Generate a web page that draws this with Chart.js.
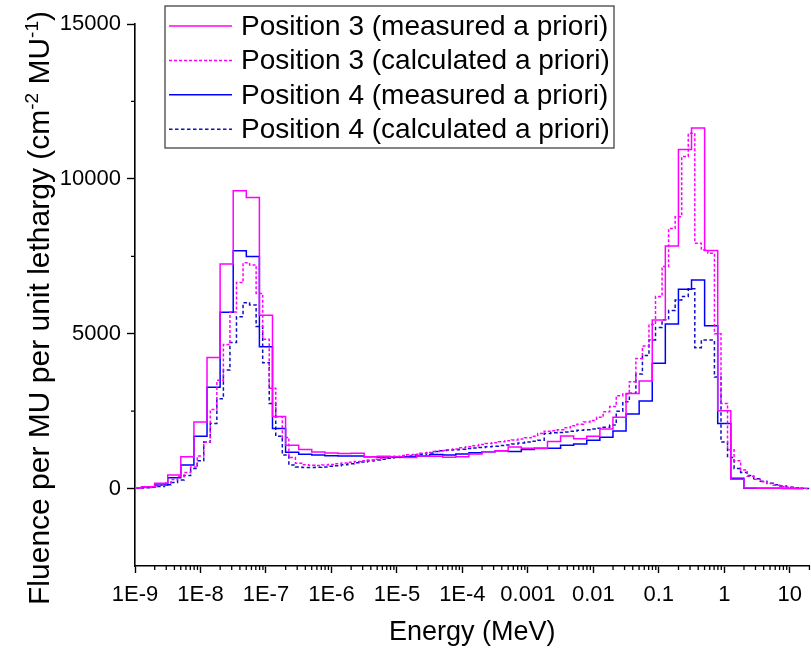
<!DOCTYPE html>
<html>
<head>
<meta charset="utf-8">
<title>Fluence spectra</title>
<script src="https://cdn.jsdelivr.net/npm/chart.js@4.4.1/dist/chart.umd.min.js"></script>
<style>
  html, body { margin: 0; padding: 0; background: #fff; }
  #wrap { width: 811px; height: 651px; }
</style>
</head>
<body>
<div id="wrap"><canvas id="spectrum" width="811" height="651"></canvas></div>
<script>
// Measured spectra: 5 bins per decade, bin centres from 1E-9 MeV
const pos3Measured = [
  30, 60, 170, 440, 1030, 2150, 4230, 7250, 9620, 9400,
  5600, 2330, 1400, 1260, 1180, 1150, 1130, 1140, 1030, 1040,
  1030, 1000, 1050, 1040, 1010, 1030, 1115, 1190, 1225, 1340,
  1300, 1290, 1520, 1700, 1610, 1690, 1920, 2300, 3070, 3475,
  5445, 7835, 10950, 11640, 7690, 2510, 300, 15, 12, 10,
  8, 5
];
const pos4Measured = [
  30, 50, 115, 350, 760, 1690, 3270, 5690, 7680, 7490,
  4580, 1940, 1170, 1110, 1085, 1060, 1050, 1050, 1030, 1010,
  1010, 1030, 1050, 1100, 1085, 1120, 1160, 1190, 1225, 1200,
  1260, 1300, 1300, 1400, 1440, 1560, 1655, 1860, 2410, 2830,
  4045, 5315, 6435, 6735, 5260, 2105, 330, 10, 10, 8,
  6, 5
];

// Calculated spectra: 10 bins per decade, bin centres from 1E-9 MeV
const pos3Calculated = [
  15, 20, 35, 60, 110, 180, 290, 400, 520, 700,
  1050, 1500, 2550, 3500, 4650, 5700, 6650, 7290, 7220, 6300,
  4820, 3240, 2320, 1650, 1000, 820, 770, 750, 745, 760,
  775, 800, 825, 850, 875, 900, 925, 950, 985, 1010,
  1040, 1065, 1090, 1110, 1140, 1165, 1200, 1230, 1255, 1280,
  1320, 1350, 1380, 1420, 1455, 1480, 1510, 1545, 1570, 1600,
  1640, 1690, 1780, 1850, 1870, 1900, 1960, 2030, 2080, 2150,
  2200, 2300, 2480, 2650, 3000, 3050, 3450, 4200, 4600, 5300,
  6200, 7170, 8400, 8780, 10720, 11470, 7920, 7700, 7600, 5000,
  2750, 1250, 900, 600, 400, 300, 220, 160, 110, 70,
  40, 20, 10, 5
];
const pos4Calculated = [
  10, 15, 25, 40, 70, 120, 200, 280, 420, 650,
  900, 1500, 2100, 2900, 3830, 4720, 5550, 6000, 5930, 5230,
  4060, 2750, 1690, 1085, 760, 700, 680, 680, 690, 700,
  720, 740, 770, 800, 830, 860, 890, 920, 950, 980,
  1000, 1020, 1050, 1080, 1110, 1150, 1200, 1220, 1240, 1255,
  1270, 1290, 1310, 1330, 1350, 1370, 1390, 1410, 1440, 1470,
  1500, 1530, 1560, 1780, 1800, 1810, 1830, 1850, 1880, 1900,
  1920, 1950, 1980, 2050, 2500, 2800, 3075, 3700, 4300, 4800,
  5200, 5450, 5750, 6090, 6200, 6450, 4550, 4800, 4800, 3600,
  1500, 1000, 650, 520, 420, 320, 240, 170, 120, 80,
  45, 25, 12, 6
];

const seriesLabels = [
  'Position 3 (measured a priori)',
  'Position 3 (calculated a priori)',
  'Position 4 (measured a priori)',
  'Position 4 (calculated a priori)'
];

const xTickValues = [1e-9, 1e-8, 1e-7, 1e-6, 1e-5, 1e-4, 1e-3, 1e-2, 1e-1, 1, 10];
const xTickLabels = ['1E-9', '1E-8', '1E-7', '1E-6', '1E-5', '1E-4', '0.001', '0.01', '0.1', '1', '10'];
const yTickValues = [0, 5000, 10000, 15000];
const yTickLabels = ['0', '5000', '10000', '15000'];
const yMinorValues = [2500, 7500, 12500];

const FONT = '"Liberation Sans", Arial, sans-serif';

// log-spaced bin centres starting at 1E-9 MeV
function binCentres(count, perDecade) {
  return Array.from({ length: count }, (_, i) => Math.pow(10, -9 + i / perDecade));
}
function toPoints(xs, ys) {
  return ys.map((v, i) => ({ x: xs[i], y: v }));
}

const measuredE = binCentres(pos3Measured.length, 5);
const calculatedE = binCentres(pos3Calculated.length, 10);

// minor ticks on the log axis: 2..9 in every decade
const xMinorValues = [];
for (let e = -9; e <= 1; e++) {
  for (let m = 2; m <= 9; m++) {
    const v = m * Math.pow(10, e);
    if (v <= 20) xMinorValues.push(v);
  }
}

const minorTicks = {
  id: 'minorTicks',
  afterDraw(chart) {
    const { ctx, scales: { x, y } } = chart;
    ctx.save();
    ctx.strokeStyle = '#000';
    ctx.lineWidth = 1.3;
    ctx.beginPath();
    xMinorValues.forEach(v => {
      const px = x.getPixelForValue(v);
      ctx.moveTo(px, y.bottom);
      ctx.lineTo(px, y.bottom + 4);
    });
    yMinorValues.forEach(v => {
      const py = y.getPixelForValue(v);
      ctx.moveTo(x.left, py);
      ctx.lineTo(x.left - 4, py);
    });
    ctx.stroke();
    ctx.restore();
  }
};

// y title with superscript exponents
const yTitle = {
  id: 'yTitle',
  afterDraw(chart) {
    const { ctx } = chart;
    const size = 30, supSize = 19;
    const parts = [
      ['Fluence per MU per unit lethargy (cm', false],
      ['-2', true],
      [' MU', false],
      ['-1', true],
      [')', false]
    ];
    ctx.save();
    let total = 0;
    parts.forEach(([t, sup]) => {
      ctx.font = (sup ? supSize : size) + 'px ' + FONT;
      total += ctx.measureText(t).width;
    });
    ctx.translate(49, 308);
    ctx.rotate(-Math.PI / 2);
    ctx.fillStyle = '#000';
    ctx.textBaseline = 'alphabetic';
    ctx.textAlign = 'left';
    let cx = -total / 2;
    parts.forEach(([t, sup]) => {
      ctx.font = (sup ? supSize : size) + 'px ' + FONT;
      ctx.fillText(t, cx, sup ? -11 : 0);
      cx += ctx.measureText(t).width;
    });
    ctx.restore();
  }
};

// boxed legend inside the plot area
const legendBox = {
  id: 'legendBox',
  afterDraw(chart) {
    const { ctx } = chart;
    const left = 165, top = 6, width = 449, height = 142;
    ctx.save();
    ctx.fillStyle = '#fff';
    ctx.fillRect(left, top, width, height);
    ctx.strokeStyle = '#444';
    ctx.lineWidth = 1.3;
    ctx.strokeRect(left, top, width, height);
    ctx.font = '28px ' + FONT;
    ctx.textBaseline = 'middle';
    ctx.textAlign = 'left';
    chart.data.datasets.forEach((ds, i) => {
      const rowY = 26 + i * 34.4;
      ctx.strokeStyle = ds.borderColor;
      ctx.lineWidth = ds.borderWidth;
      ctx.setLineDash(ds.borderDash || []);
      ctx.beginPath();
      ctx.moveTo(169, rowY);
      ctx.lineTo(232, rowY);
      ctx.stroke();
      ctx.setLineDash([]);
      ctx.fillStyle = '#000';
      ctx.fillText(ds.label, 241, rowY + 1);
    });
    ctx.restore();
  }
};

const ctx = document.getElementById('spectrum').getContext('2d');
new Chart(ctx, {
  type: 'line',
  data: {
    datasets: [{
      label: seriesLabels[0],
      data: toPoints(measuredE, pos3Measured),
      borderColor: '#FF00FF',
      borderWidth: 1.5,
      stepped: 'middle'
    }, {
      label: seriesLabels[1],
      data: toPoints(calculatedE, pos3Calculated),
      borderColor: '#FF00FF',
      borderWidth: 1.5,
      borderDash: [3, 2],
      stepped: 'middle'
    }, {
      label: seriesLabels[2],
      data: toPoints(measuredE, pos4Measured),
      borderColor: '#0000FF',
      borderWidth: 1.5,
      stepped: 'middle'
    }, {
      label: seriesLabels[3],
      data: toPoints(calculatedE, pos4Calculated),
      borderColor: '#1010C0',
      borderWidth: 1.5,
      borderDash: [3.5, 2.5],
      stepped: 'middle'
    }]
  },
  options: {
    responsive: false,
    animation: false,
    layout: { padding: { top: 24, right: 1, left: 0, bottom: 0 } },
    elements: { point: { radius: 0 }, line: { tension: 0 } },
    plugins: {
      legend: { display: false },
      tooltip: { enabled: false }
    },
    scales: {
      x: {
        type: 'logarithmic',
        min: 1e-9,
        max: 20,
        afterFit: scale => { scale.height = 85; },
        afterBuildTicks: scale => { scale.ticks = xTickValues.map(v => ({ value: v })); },
        grid: { drawOnChartArea: false, drawTicks: true, tickLength: 7, color: '#000', tickWidth: 1.4 },
        border: { display: true, color: '#000', width: 1.6 },
        ticks: {
          autoSkip: false,
          maxRotation: 0,
          padding: 9,
          color: '#000',
          font: { family: FONT, size: 22 },
          callback: (value, index) => xTickLabels[index]
        },
        title: {
          display: true,
          text: 'Energy (MeV)',
          color: '#000',
          font: { family: FONT, size: 27 },
          padding: { top: 0, bottom: 2 }
        }
      },
      y: {
        type: 'linear',
        min: -2500,
        max: 15000,
        afterFit: scale => { scale.width = 135; },
        afterBuildTicks: scale => { scale.ticks = yTickValues.map(v => ({ value: v })); },
        grid: { drawOnChartArea: false, drawTicks: true, tickLength: 8, color: '#000', tickWidth: 1.4 },
        border: { display: true, color: '#000', width: 1.6 },
        ticks: {
          padding: 6,
          color: '#000',
          font: { family: FONT, size: 22 },
          callback: (value, index) => yTickLabels[index]
        }
      }
    }
  },
  plugins: [minorTicks, yTitle, legendBox]
});
</script>
</body>
</html>
